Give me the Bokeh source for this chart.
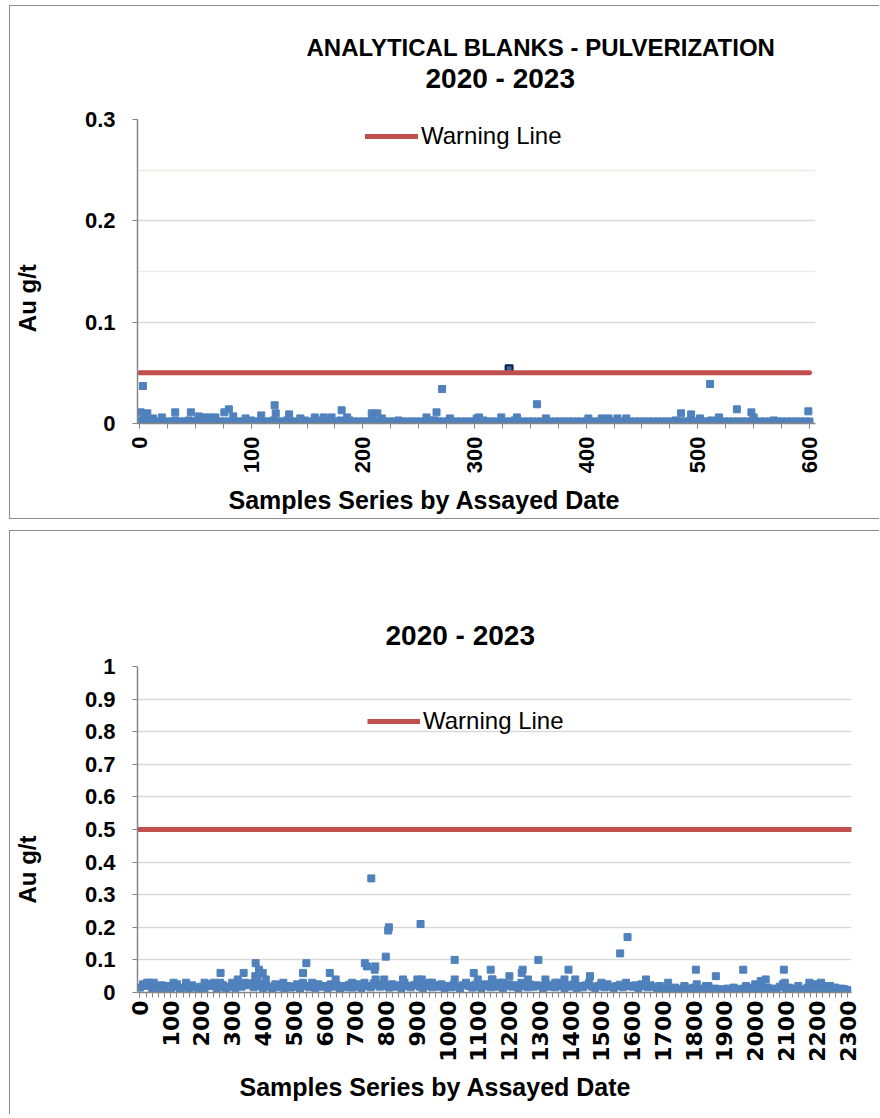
import math
from bokeh.plotting import figure
from bokeh.models import Range1d, FixedTicker, Legend, LegendItem, ColumnDataSource, Title
from bokeh.embed import file_html
from bokeh.resources import INLINE

# ---------------- DATA ----------------
TITLE_1 = "ANALYTICAL BLANKS - PULVERIZATION"
TITLE_YEARS = "2020 - 2023"
X_LABEL = "Samples Series by Assayed Date"
Y_LABEL = "Au g/t"
LEGEND_LABEL = "Warning Line"

# Top chart (pulverization blanks, ~600 samples), Au in thousandths of g/t
TOP_BASE_STEP = 4
TOP_BASE_AU_MILLI = [
    3, 4, 3, 3, 2, 3, 2, 2, 3, 2,
    2, 3, 2, 3, 3, 3, 2, 3, 2, 2,
    2, 3, 2, 2, 2, 3, 2, 2, 2, 2,
    3, 2, 2, 3, 2, 2, 2, 3, 2, 2,
    3, 2, 2, 2, 2, 3, 2, 3, 2, 2,
    2, 2, 3, 2, 2, 2, 2, 2, 3, 2,
    2, 2, 2, 2, 2, 3, 3, 2, 2, 2,
    2, 2, 2, 2, 2, 2, 2, 3, 2, 2,
    2, 2, 2, 2, 3, 2, 2, 2, 2, 2,
    2, 2, 2, 2, 2, 2, 2, 2, 2, 2,
    2, 2, 2, 2, 2, 2, 2, 2, 2, 3,
    2, 2, 2, 2, 2, 2, 2, 2, 2, 2,
    3, 2, 2, 2, 2, 2, 2, 2, 3, 2,
    2, 2, 2, 2, 2, 2, 2, 2, 2, 2,
    2, 2, 3, 2, 2, 2, 2, 2, 2, 2,
    2,
]
TOP_PT_SAMPLE = [1, 3, 7, 12, 20, 32, 46, 53, 58, 63, 68, 76, 80, 84, 95, 109, 121, 122,
                 134, 144, 157, 165, 172, 181, 186, 208, 213, 217, 257, 266, 271, 278,
                 302, 304, 324, 338, 356, 364, 402, 414, 420, 428, 436, 485, 494, 502,
                 511, 519, 535, 548, 550, 599]
TOP_PT_AU = [0.011, 0.037, 0.010, 0.005, 0.006, 0.011, 0.011, 0.007, 0.006, 0.006, 0.006,
             0.011, 0.014, 0.007, 0.005, 0.008, 0.018, 0.010, 0.009, 0.005, 0.006, 0.006,
             0.006, 0.013, 0.006, 0.010, 0.010, 0.005, 0.006, 0.011, 0.034, 0.005, 0.005,
             0.006, 0.006, 0.006, 0.019, 0.005, 0.005, 0.005, 0.005, 0.005, 0.005, 0.010,
             0.009, 0.005, 0.039, 0.006, 0.014, 0.011, 0.006, 0.012]
TOP_HI_SAMPLE = [331]
TOP_HI_AU = [0.054]
TOP_WARN_X = [0, 600]
TOP_WARN_Y = [0.05, 0.05]
TOP_X_TICKS = [0, 100, 200, 300, 400, 500, 600]
TOP_Y_TICKS = [0, 0.1, 0.2, 0.3]

# Bottom chart (all blanks, ~2300 samples)
BOT_BASE_STEP = 10
BOT_BASE_AU_MILLI = [
    15, 25, 20, 30, 12, 18, 10, 22, 14, 20,
    12, 18, 25, 10, 15, 20, 12, 22, 16, 10,
    18, 14, 25, 20, 30, 12, 16, 22, 10, 18,
    20, 14, 25, 18, 30, 22, 28, 16, 20, 25,
    14, 20, 18, 12, 25, 16, 22, 10, 20, 15,
    18, 25, 12, 30, 20, 16, 22, 14, 25, 18,
    20, 14, 25, 18, 22, 12, 20, 16, 24, 15,
    18, 25, 14, 30, 20, 16, 28, 22, 18, 25,
    20, 15, 25, 18, 22, 14, 30, 20, 16, 22,
    25, 18, 14, 20, 30, 16, 22, 18, 25, 14,
    20, 16, 25, 18, 12, 22, 30, 20, 15, 24,
    18, 14, 25, 20, 16, 22, 18, 30, 14, 20,
    25, 18, 22, 14, 30, 20, 16, 24, 18, 22,
    20, 14, 25, 18, 22, 16, 30, 20, 14, 22,
    18, 25, 14, 20, 16, 22, 30, 18, 14, 20,
    22, 16, 25, 18, 14, 20, 24, 16, 30, 20,
    18, 22, 14, 25, 20, 16, 22, 18, 14, 20,
    10, 6, 12, 8, 15, 5, 10, 18, 8, 12,
    15, 8, 12, 6, 20, 10, 8, 12, 5, 10,
    8, 12, 6, 15, 10, 8, 12, 20, 10, 15,
    12, 8, 20, 10, 15, 8, 12, 10, 18, 25,
    10, 15, 8, 12, 20, 10, 8, 15, 12, 25,
    10, 15, 8, 20, 12, 10, 15, 8, 12, 10,
    8,
]
BOT_PT_SAMPLE = [752, 809, 807, 912, 799, 1023, 731, 738, 765, 763, 376, 387, 399, 375,
                 409, 382, 541, 530, 262, 337, 617, 318, 636, 1085, 1140, 1098, 1023,
                 766, 794, 855, 902, 916, 1144, 1585, 1561, 1295, 1244, 1393, 1807, 1961,
                 2093, 1201, 1241, 1463, 1872, 1146, 1261, 1318, 1380, 1415, 1645, 2034,
                 2018, 1717, 2096, 2176, 2214, 2244, 1810, 1770, 1848, 2000,
                 23, 109, 210, 261, 466, 45, 150, 300, 560, 690, 950, 1180, 1350, 1500]
BOT_PT_AU = [0.35, 0.20, 0.19, 0.21, 0.11, 0.10, 0.09, 0.08, 0.08, 0.07, 0.09, 0.07, 0.06,
             0.05, 0.04, 0.04, 0.09, 0.06, 0.06, 0.06, 0.06, 0.04, 0.04, 0.06, 0.07, 0.04,
             0.04, 0.04, 0.04, 0.04, 0.04, 0.04, 0.04, 0.17, 0.12, 0.10, 0.07, 0.07, 0.07,
             0.07, 0.07, 0.05, 0.06, 0.05, 0.05, 0.04, 0.04, 0.04, 0.04, 0.04, 0.04, 0.04,
             0.035, 0.03, 0.03, 0.03, 0.03, 0.02, 0.025, 0.02, 0.02, 0.025,
             0.03, 0.03, 0.03, 0.03, 0.03, 0.03, 0.03, 0.03, 0.03, 0.03, 0.03, 0.03, 0.03, 0.03]
BOT_WARN_X = [-8, 2320]
BOT_WARN_Y = [0.5, 0.5]
BOT_X_TICKS = list(range(0, 2301, 100))
BOT_Y_TICKS = [0, 0.1, 0.2, 0.3, 0.4, 0.5, 0.6, 0.7, 0.8, 0.9, 1]

# ---------------- STYLE ----------------
BLUE = "#4F81BD"
RED = "#C0504D"
AXIS_GRAY = "#868686"
GRID = "#D9D9D9"
FONT = "Liberation Sans"
BOX = "1px solid #8C8C8C"
NBSP = "\u00a0"


def style_axes(p, xt, xminor, yt, yminor, xfont, xsize, xstandoff, ylabel_pad):
    p.outline_line_color = None
    p.xgrid.visible = False
    p.yaxis.ticker = FixedTicker(ticks=yt, minor_ticks=yminor)
    p.ygrid.ticker = FixedTicker(ticks=yt, minor_ticks=yminor)
    p.ygrid.grid_line_color = GRID
    p.ygrid.grid_line_width = 1.5
    if yminor:
        p.ygrid.minor_grid_line_color = "#EEECE1"
        p.ygrid.minor_grid_line_width = 1.5
    p.xaxis.ticker = FixedTicker(ticks=xt, minor_ticks=xminor)
    for ax in (p.xaxis[0], p.yaxis[0]):
        ax.axis_line_color = AXIS_GRAY
        ax.axis_line_width = 1.5
        ax.major_tick_line_color = AXIS_GRAY
        ax.minor_tick_line_color = AXIS_GRAY
        ax.major_tick_in = 0
        ax.minor_tick_in = 0
        ax.major_tick_out = 5
        ax.major_label_text_font_style = "bold"
        ax.major_label_text_color = "black"
    p.yaxis.major_label_text_font = FONT
    p.yaxis.major_label_text_font_size = "22px"
    p.xaxis.major_label_text_font = xfont
    p.xaxis.major_label_text_font_size = xsize
    p.yaxis.minor_tick_out = 0
    p.xaxis.minor_tick_out = 5
    p.yaxis.major_label_standoff = 17
    p.xaxis.major_label_standoff = xstandoff
    p.xaxis.major_label_orientation = math.pi / 2
    # y axis title (trailing no-break spaces move the visible words down the axis)
    p.yaxis.axis_label = Y_LABEL + NBSP * ylabel_pad
    p.yaxis.axis_label_standoff = 41
    p.yaxis.axis_label_text_font = FONT
    p.yaxis.axis_label_text_font_size = "24px"
    p.yaxis.axis_label_text_font_style = "bold"
    p.yaxis.axis_label_text_color = "black"


def add_title(p, text, place, size, offset, standoff, valign):
    p.add_layout(Title(text=text, align="left", offset=offset, standoff=standoff,
                       vertical_align=valign, text_font=FONT, text_font_size=size,
                       text_font_style="bold", text_color="black"), place)


def add_spacer(p, standoff):
    p.add_layout(Title(text=" ", text_font_size="2px", standoff=standoff,
                       text_color="white"), "above")


def add_legend(p, r, x, y):
    leg = Legend(items=[LegendItem(label=LEGEND_LABEL, renderers=[r])], location=(x, y),
                 border_line_color=None, background_fill_alpha=0, padding=0, margin=0,
                 spacing=0, glyph_width=53, glyph_height=20, label_height=20,
                 label_standoff=3, label_text_font=FONT, label_text_font_size="24px",
                 label_text_color="black")
    p.add_layout(leg)


# ---------------- TOP FIGURE ----------------
p1 = figure(width=870, height=514, x_range=Range1d(-1.8, 605.4), y_range=Range1d(0, 0.3),
            output_backend="svg", toolbar_location=None,
            min_border_left=127, min_border_right=65, min_border_top=113, min_border_bottom=94)
style_axes(p1, TOP_X_TICKS, list(range(0, 601, 25)), TOP_Y_TICKS, [0.05, 0.15, 0.25],
           FONT, "22px", 8, 8)

top_base = ColumnDataSource(dict(x=[i * TOP_BASE_STEP for i in range(len(TOP_BASE_AU_MILLI))],
                                 y=[v / 1000 for v in TOP_BASE_AU_MILLI]))
p1.scatter("x", "y", source=top_base, marker="square", size=7, fill_color=BLUE, line_color=BLUE)
p1.scatter(TOP_PT_SAMPLE, TOP_PT_AU, marker="square", size=7, fill_color=BLUE, line_color=BLUE)
p1.scatter(TOP_HI_SAMPLE, TOP_HI_AU, marker="square", size=7, fill_color="#3B64A0",
           line_color="#0B1F4F", line_width=2)
w1 = p1.line(TOP_WARN_X, TOP_WARN_Y, line_color=RED, line_width=5, line_cap="round")
add_legend(p1, w1, 228, 273)

add_spacer(p1, 22)
add_title(p1, TITLE_YEARS, "above", "28px", 288, 0, "bottom")
add_title(p1, TITLE_1, "above", "24px", 169, 0, "bottom")
add_title(p1, X_LABEL, "below", "25px", 91, 14, "bottom")
p1.margin = (5, 0, 0, 9)
p1.styles = {"border-top": BOX, "border-left": BOX, "border-bottom": BOX}

# ---------------- BOTTOM FIGURE ----------------
p2 = figure(width=870, height=584, x_range=Range1d(-8, 2313), y_range=Range1d(0, 1),
            output_backend="svg", toolbar_location=None,
            min_border_left=125, min_border_right=29, min_border_top=135, min_border_bottom=123)
style_axes(p2, BOT_X_TICKS, list(range(0, 2311, 20)), BOT_Y_TICKS, [],
           "DejaVu Sans", "22px", 3, 12)

bot_base = ColumnDataSource(dict(x=[i * BOT_BASE_STEP for i in range(len(BOT_BASE_AU_MILLI))],
                                 y=[v / 1000 for v in BOT_BASE_AU_MILLI]))
p2.scatter("x", "y", source=bot_base, marker="square", size=7, fill_color=BLUE, line_color=BLUE)
p2.scatter(BOT_PT_SAMPLE, BOT_PT_AU, marker="square", size=7, fill_color=BLUE, line_color=BLUE)
w2 = p2.line(BOT_WARN_X, BOT_WARN_Y, line_color=RED, line_width=5)
add_legend(p2, w2, 230, 257)

add_spacer(p2, 12)
add_title(p2, TITLE_YEARS, "above", "28px", 248, 0, "bottom")
add_title(p2, X_LABEL, "below", "25px", 102, 17, "top")
p2.margin = (11, 0, 0, 9)
p2.styles = {"border-top": BOX, "border-left": BOX}

open("out.html", "w").write(file_html([p1, p2], INLINE))
